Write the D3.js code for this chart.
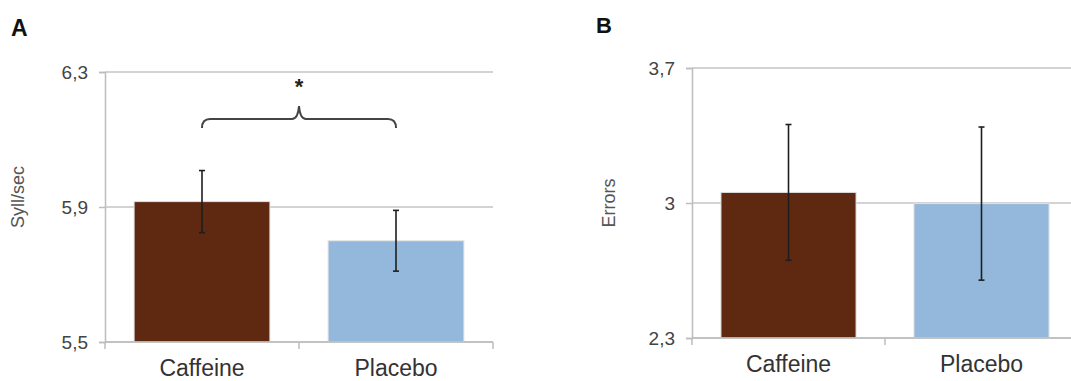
<!DOCTYPE html>
<html>
<head>
<meta charset="utf-8">
<script src="https://cdn.jsdelivr.net/npm/d3@7"></script>
<style>
  body { margin: 0; background: #fff; }
  svg { display: block; font-family: 'Liberation Sans', Arial, sans-serif; }
</style>
</head>
<body>
<div id="wrapper"></div>
<script>
// Data
const categories = ['Caffeine', 'Placebo'];
const barColors = ['#5f2811', '#94b8dc'];

const syllMeans = [5.916, 5.8];
const syllErrors = [0.092, 0.09];
const syllTicks = [5.5, 5.9, 6.3];
const syllTickLabels = ['5,5', '5,9', '6,3'];

const errMeans = [3.055, 2.997];
const errErrors = [0.352, 0.397];
const errTicks = [2.3, 3, 3.7];
const errTickLabels = ['2,3', '3', '3,7'];

function drawChart() {
  const width = 1071;
  const height = 381;

  const svg = d3
    .select('#wrapper')
    .append('svg')
    .attr('width', width)
    .attr('height', height);

  function drawPanel(opts) {
    const { left, right, top, bottom, means, errors, ticks, tickLabels } = opts;

    const xScale = d3
      .scaleBand()
      .domain(categories)
      .range([left, right])
      .paddingInner(0.3)
      .paddingOuter(0.15);

    const yScale = d3
      .scaleLinear()
      .domain([ticks[0], ticks[ticks.length - 1]])
      .range([bottom, top]);

    const g = svg.append('g');

    // gridlines
    g.append('g')
      .selectAll('line')
      .data(ticks)
      .enter()
      .append('line')
      .attr('x1', left)
      .attr('x2', Math.min(right, width))
      .attr('y1', (d) => yScale(d))
      .attr('y2', (d) => yScale(d))
      .attr('stroke', '#c4c4c4')
      .attr('stroke-width', 1.5);

    // y axis
    const yAxis = d3
      .axisLeft(yScale)
      .tickValues(ticks)
      .tickFormat((d, i) => tickLabels[i])
      .tickSize(6)
      .tickPadding(11);

    const yAxisG = g
      .append('g')
      .attr('transform', `translate(${left},0)`)
      .call(yAxis);
    yAxisG.select('.domain').attr('stroke', '#bdbdbd').attr('stroke-width', 1.5);
    yAxisG.selectAll('.tick line').attr('stroke', '#bdbdbd').attr('stroke-width', 1.5);
    yAxisG
      .selectAll('.tick text')
      .attr('fill', '#444')
      .style('font-size', '19px');
    yAxisG.attr('font-family', null).attr('font-size', null);

    // bars
    g.append('g')
      .selectAll('rect')
      .data(categories)
      .enter()
      .append('rect')
      .attr('x', (d) => xScale(d))
      .attr('width', xScale.bandwidth())
      .attr('y', (d, i) => yScale(means[i]))
      .attr('height', (d, i) => bottom - yScale(means[i]))
      .attr('fill', (d, i) => barColors[i])
      .attr('stroke', '#e2e2e2')
      .attr('stroke-width', 1);

    // x axis line with ticks at band boundaries
    const step = xScale.step();
    const boundaries = d3.range(categories.length + 1).map((i) => left + i * step);
    g.append('line')
      .attr('x1', left)
      .attr('x2', Math.min(right, width))
      .attr('y1', bottom)
      .attr('y2', bottom)
      .attr('stroke', '#bdbdbd')
      .attr('stroke-width', 1.5);
    g.append('g')
      .selectAll('line')
      .data(boundaries)
      .enter()
      .append('line')
      .attr('x1', (d) => d)
      .attr('x2', (d) => d)
      .attr('y1', bottom)
      .attr('y2', bottom + 7)
      .attr('stroke', '#bdbdbd')
      .attr('stroke-width', 1.5);

    // category labels
    const xAxis = d3.axisBottom(xScale).tickSize(0).tickPadding(18);
    const xAxisG = g
      .append('g')
      .attr('transform', `translate(0,${bottom})`)
      .call(xAxis);
    xAxisG.select('.domain').remove();
    xAxisG
      .selectAll('.tick text')
      .attr('fill', '#333')
      .style('font-size', '23px');
    xAxisG.attr('font-family', null).attr('font-size', null);

    // error bars
    const cx = (d) => xScale(d) + xScale.bandwidth() / 2;
    const errG = g.append('g').attr('stroke', '#1e1e1e').attr('stroke-width', 1.6);
    errG
      .selectAll('.err')
      .data(categories)
      .enter()
      .append('line')
      .attr('x1', cx)
      .attr('x2', cx)
      .attr('y1', (d, i) => yScale(means[i] + errors[i]))
      .attr('y2', (d, i) => yScale(means[i] - errors[i]));
    [1, -1].forEach((sign) => {
      errG
        .selectAll('.cap' + sign)
        .data(categories)
        .enter()
        .append('line')
        .attr('x1', (d) => cx(d) - 3)
        .attr('x2', (d) => cx(d) + 3)
        .attr('y1', (d, i) => yScale(means[i] + sign * errors[i]))
        .attr('y2', (d, i) => yScale(means[i] + sign * errors[i]));
    });

    return { g, xScale, yScale, cx };
  }

  // Panel A
  const panelA = drawPanel({
    left: 105,
    right: 493,
    top: 72,
    bottom: 342,
    means: syllMeans,
    errors: syllErrors,
    ticks: syllTicks,
    tickLabels: syllTickLabels,
  });

  // Panel B
  drawPanel({
    left: 692,
    right: 1078,
    top: 68,
    bottom: 338,
    means: errMeans,
    errors: errErrors,
    ticks: errTicks,
    tickLabels: errTickLabels,
  });

  // Panel letters
  svg.append('text')
    .attr('x', 11)
    .attr('y', 36)
    .attr('font-weight', 'bold')
    .style('font-size', '23px')
    .attr('fill', '#111')
    .text('A');

  svg.append('text')
    .attr('x', 596)
    .attr('y', 33)
    .attr('font-weight', 'bold')
    .style('font-size', '22px')
    .attr('fill', '#111')
    .text('B');

  // Axis titles
  svg.append('text')
    .attr('transform', 'translate(24,197) rotate(-90)')
    .attr('text-anchor', 'middle')
    .attr('fill', '#555')
    .style('font-size', '18px')
    .text('Syll/sec');

  svg.append('text')
    .attr('transform', 'translate(615,203) rotate(-90)')
    .attr('text-anchor', 'middle')
    .attr('fill', '#555')
    .style('font-size', '18px')
    .text('Errors');

  // Significance brace between the two bars in panel A
  const x0 = panelA.cx(categories[0]);
  const x1 = panelA.cx(categories[1]);
  const xm = (x0 + x1) / 2;
  const yb = 119;
  const brace = d3.path();
  brace.moveTo(x0, yb + 9);
  brace.quadraticCurveTo(x0, yb, x0 + 8, yb);
  brace.lineTo(xm - 7, yb);
  brace.quadraticCurveTo(xm - 1, yb, xm, yb - 13);
  brace.quadraticCurveTo(xm + 1, yb, xm + 7, yb);
  brace.lineTo(x1 - 8, yb);
  brace.quadraticCurveTo(x1, yb, x1, yb + 9);

  panelA.g.append('path')
    .attr('d', brace.toString())
    .attr('fill', 'none')
    .attr('stroke', '#444')
    .attr('stroke-width', 2);

  panelA.g.append('text')
    .attr('x', xm)
    .attr('y', 94)
    .attr('text-anchor', 'middle')
    .attr('font-weight', 'bold')
    .style('font-size', '22px')
    .attr('fill', '#222')
    .text('*');
}
drawChart();
</script>
</body>
</html>
